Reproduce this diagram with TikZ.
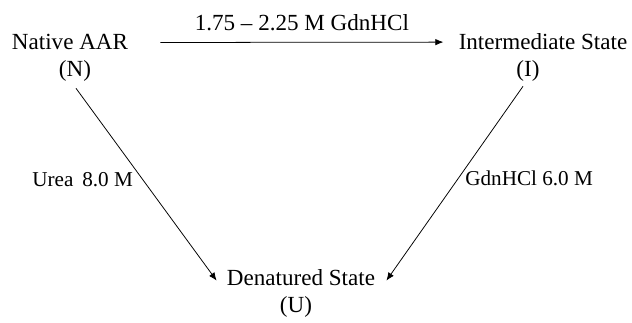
\documentclass[tikz,border=0pt]{standalone}
\usepackage{fontspec}
\setmainfont{Liberation Serif}
\usetikzlibrary{arrows.meta}

\begin{document}
\begin{tikzpicture}[x=0.52pt, y=-0.52pt,
    state/.style={font=\fontsize{12}{14}\selectfont, inner sep=0pt, anchor=base},
    cond/.style={font=\fontsize{11}{13}\selectfont, inner sep=0pt, anchor=base west},
    arr/.style={-{Latex[length=4.2pt, width=3.4pt]}, thin}]
            % Frame of the picture
            \useasboundingbox (0,0) rectangle (632,322);

            % States
            \node[state] (nat) at (70,49) {Native AAR};
            \node[state] (nN) at (75,76) {(N)};
            \node[state] (int) at (543,49) {Intermediate State};
            \node[state] (nI) at (528,76) {(I)};
            \node[state] (den) at (301,285) {Denatured State};
            \node[state] (nU) at (296,312) {(U)};

            % Native -> Intermediate
            \draw[arr] ([shift={(32,1)}]nat.east) -- ([shift={(-15,1)}]int.west)
                node[midway, above=5.7pt, state, anchor=south] (top) {1.75 -- 2.25 M GdnHCl};

            % Both routes to the denatured state
            \draw[arr] ([shift={(1,7)}]nN.south) -- ([shift={(-10,-5)}]den.south west);
            \draw[arr] ([shift={(-5,5)}]nI.south) -- ([shift={(11,-5)}]den.south east);

            % Denaturant labels
            \node[cond] (urea) at (32,186) {Urea\,\ 8.0 M};
            \node[cond] (gdn) at (465,185) {GdnHCl 6.0 M};
        \end{tikzpicture}
\end{document}
